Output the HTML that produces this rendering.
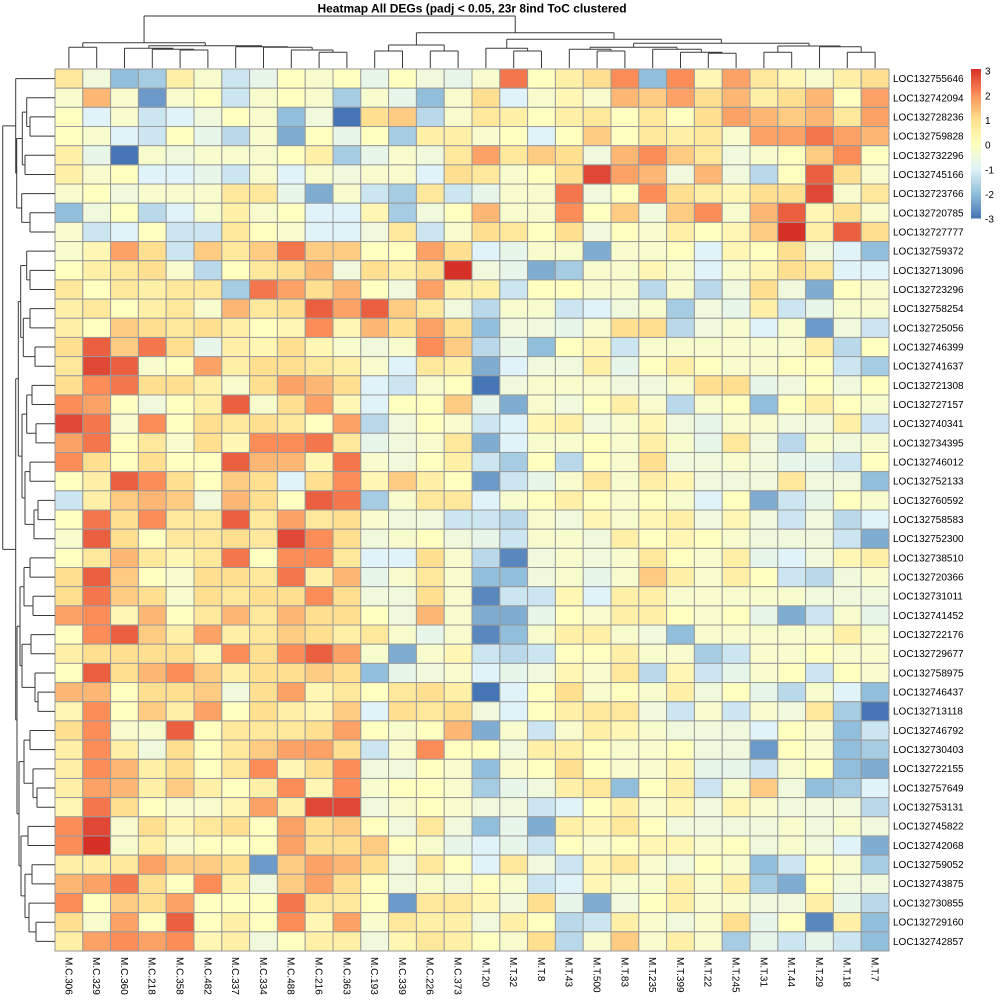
<!DOCTYPE html>
<html>
<head>
<meta charset="utf-8">
<style>
html,body{margin:0;padding:0;background:#fff;}
svg{display:block;}
text{font-family:"Liberation Sans",Arial,sans-serif;fill:#000;}
</style>
</head>
<body>
<svg id="s" xmlns="http://www.w3.org/2000/svg" width="1000" height="1000" viewBox="0 0 1000 1000">
<rect x="0" y="0" width="1000" height="1000" fill="#fff"/>
<g id="cells"></g>
<g id="dend" fill="none" stroke="#3a3a3a" stroke-width="1"></g>
<text x="472" y="12.3" font-size="12" font-weight="bold" text-anchor="middle">Heatmap All DEGs (padj &lt; 0.05, 23r 8ind ToC clustered</text>
<defs>
<linearGradient id="lg" x1="0" y1="0" x2="0" y2="1">
<stop offset="0" stop-color="#D73027"/>
<stop offset="0.1667" stop-color="#FC8D59"/>
<stop offset="0.3333" stop-color="#FEE090"/>
<stop offset="0.5" stop-color="#FFFFBF"/>
<stop offset="0.6667" stop-color="#E0F3F8"/>
<stop offset="0.8333" stop-color="#91BFDB"/>
<stop offset="1" stop-color="#4575B4"/>
</linearGradient>
</defs>
<rect x="971" y="69" width="10" height="149.5" fill="url(#lg)"/>
<g font-size="10">
<text x="985" y="74.3">3</text>
<text x="985" y="99.3">2</text>
<text x="985" y="123.9">1</text>
<text x="985" y="148.6">0</text>
<text x="985" y="173.6">-1</text>
<text x="985" y="197.9">-2</text>
<text x="985" y="222.6">-3</text>
</g>
<g font-size="10">
<text x="893" y="82.1">LOC132755646</text>
<text x="893" y="101.27">LOC132742094</text>
<text x="893" y="120.44">LOC132728236</text>
<text x="893" y="139.61">LOC132759828</text>
<text x="893" y="158.78">LOC132732296</text>
<text x="893" y="177.95">LOC132745166</text>
<text x="893" y="197.12">LOC132723766</text>
<text x="893" y="216.29">LOC132720785</text>
<text x="893" y="235.46">LOC132727777</text>
<text x="893" y="254.63">LOC132759372</text>
<text x="893" y="273.8">LOC132713096</text>
<text x="893" y="292.97">LOC132723296</text>
<text x="893" y="312.14">LOC132758254</text>
<text x="893" y="331.31">LOC132725056</text>
<text x="893" y="350.48">LOC132746399</text>
<text x="893" y="369.65">LOC132741637</text>
<text x="893" y="388.82">LOC132721308</text>
<text x="893" y="407.99">LOC132727157</text>
<text x="893" y="427.16">LOC132740341</text>
<text x="893" y="446.33">LOC132734395</text>
<text x="893" y="465.5">LOC132746012</text>
<text x="893" y="484.67">LOC132752133</text>
<text x="893" y="503.84">LOC132760592</text>
<text x="893" y="523.01">LOC132758583</text>
<text x="893" y="542.18">LOC132752300</text>
<text x="893" y="561.35">LOC132738510</text>
<text x="893" y="580.52">LOC132720366</text>
<text x="893" y="599.69">LOC132731011</text>
<text x="893" y="618.86">LOC132741452</text>
<text x="893" y="638.03">LOC132722176</text>
<text x="893" y="657.2">LOC132729677</text>
<text x="893" y="676.37">LOC132758975</text>
<text x="893" y="695.54">LOC132746437</text>
<text x="893" y="714.71">LOC132713118</text>
<text x="893" y="733.88">LOC132746792</text>
<text x="893" y="753.05">LOC132730403</text>
<text x="893" y="772.22">LOC132722155</text>
<text x="893" y="791.39">LOC132757649</text>
<text x="893" y="810.56">LOC132753131</text>
<text x="893" y="829.73">LOC132745822</text>
<text x="893" y="848.9">LOC132742068</text>
<text x="893" y="868.07">LOC132759052</text>
<text x="893" y="887.24">LOC132743875</text>
<text x="893" y="906.41">LOC132730855</text>
<text x="893" y="925.58">LOC132729160</text>
<text x="893" y="944.75">LOC132742857</text>
</g>
<g font-size="10">
<text transform="translate(65.3,957) rotate(90)">M.C.306</text>
<text transform="translate(93.1,957) rotate(90)">M.C.329</text>
<text transform="translate(120.9,957) rotate(90)">M.C.360</text>
<text transform="translate(148.7,957) rotate(90)">M.C.218</text>
<text transform="translate(176.5,957) rotate(90)">M.C.358</text>
<text transform="translate(204.3,957) rotate(90)">M.C.482</text>
<text transform="translate(232.1,957) rotate(90)">M.C.337</text>
<text transform="translate(259.9,957) rotate(90)">M.C.334</text>
<text transform="translate(287.7,957) rotate(90)">M.C.488</text>
<text transform="translate(315.5,957) rotate(90)">M.C.216</text>
<text transform="translate(343.3,957) rotate(90)">M.C.363</text>
<text transform="translate(371.1,957) rotate(90)">M.C.193</text>
<text transform="translate(398.9,957) rotate(90)">M.C.339</text>
<text transform="translate(426.7,957) rotate(90)">M.C.226</text>
<text transform="translate(454.5,957) rotate(90)">M.C.373</text>
<text transform="translate(482.3,957) rotate(90)">M.T.20</text>
<text transform="translate(510.1,957) rotate(90)">M.T.32</text>
<text transform="translate(537.9,957) rotate(90)">M.T.8</text>
<text transform="translate(565.7,957) rotate(90)">M.T.43</text>
<text transform="translate(593.5,957) rotate(90)">M.T.500</text>
<text transform="translate(621.3,957) rotate(90)">M.T.83</text>
<text transform="translate(649.1,957) rotate(90)">M.T.235</text>
<text transform="translate(676.9,957) rotate(90)">M.T.399</text>
<text transform="translate(704.7,957) rotate(90)">M.T.22</text>
<text transform="translate(732.5,957) rotate(90)">M.T.245</text>
<text transform="translate(760.3,957) rotate(90)">M.T.31</text>
<text transform="translate(788.1,957) rotate(90)">M.T.44</text>
<text transform="translate(815.9,957) rotate(90)">M.T.29</text>
<text transform="translate(843.7,957) rotate(90)">M.T.18</text>
<text transform="translate(871.5,957) rotate(90)">M.T.7</text>
</g>
</svg>
<script>
(function(){
var NS="http://www.w3.org/2000/svg";
var D=[
"PKEFOLHJMLMJMKJLVMOQUEUNTPNLOQ",
"LSLCLMHLMLFLJELQILNLSRTQSOQSMT",
"MILHIKMLEKAQRGLPOMOPMPMQTSRSPT",
"MLIHMJGLDMJMFOOLMIMRMPOPLTTVTS",
"OJALKLLLMOFJLKPTPRQKSURPKLMRUM",
"OLMIIJHLILKLLIQPLMQXTSKSKGMWQL",
"LMKLLLPPJDLHFPHJLLVKMUQONQQXLP",
"EKMGILOLMIINFKMSLLUMRKRULSWNQL",
"LHIMHHPMLIIKPHLQPMQKMLOMNRYOWQ",
"LNTQHRPRVRRMMTQIJLLDLLMINMQKIE",
"MOPQLGMPQSKQOQYKJDFLLNLILNQPII",
"PMPOPPFVTQSMKTOOHMMLLGLGKQKDML",
"OPMOPLSPQWTWRPKGLLHIKLFKJOHJLL",
"OMRQPQOMNUNSQTQEKKJLQQGKLILCKH",
"QWRVQJONQNLKLURGJEMNHLLLLLLOGM",
"PXWLMTOQQPOLIPODIKKOJMOMLLMMHF",
"QUVQQOLQTSQIHLMAKLLLKKLQQJKMKM",
"UTMKMOWLQTNIMMRJDLKMOLGLMEMOML",
"XVLUMQPQPMTGKMLHINOKLNKJLLKKOH",
"TVMPLQNUUVPJKLPDILLMLOLJPKGLKL",
"UQMQMMWSSNVLKMOHFMGMLQKKLKJJHM",
"MOWUQMRQIQUNROMCHJLPLONKKKPKKE",
"HORSRKSQMWVFLPPILMOMLMLIMDHJML",
"MVQUPPWPTPQLKKHHGLKNLNOKNKHKGI",
"LWQMPPQPXUQKLMKJHLLKOMNMLKKKHD",
"MPSPNPVMUUPIIQLGBKLKLPMLOJIKNO",
"QWRMLQQPVOSJLPLEEKLJLROLOMHGKL",
"QVRQLQPQQUQKKQLBHHNIOOLLLLLKKK",
"TUNSMPSPSQQMKSLDDJMLOOMLMJDHLJ",
"MUWROTOPRQOPLJLBELOOLKELLLLLOL",
"OQQQQNUQUWTLDLNHGHMMOLLFHLLMLL",
"MWQSUROQQRQEJKLIJKNLPGNHJLMHML",
"SSMQQRKQTNPMPQOAIMQLMLOKMJGLIE",
"NUMROTMQONRIQPQKIMOPPKHLHLKPFA",
"QULLWMPPPQTMLMSDLHLONLKKKIMLEH",
"OUOKQMPRTTQHLUMMKOOMLLMKKCMLEF",
"OUSOQMPUNQUKKMLELMQMLLNJJHLMED",
"OTSOROMOUNULMMLFJKOPEMOHLRKEFI",
"NVQMLLNTOXXKLMLKKHIMOLNKNLKKKG",
"UXLQNPQMTQRMKPKEJDONPMKKKKLKLK",
"UYLOLMMMTQQRMLJIJHMLMNNLMKLKID",
"OOPTRRQCRTSQKPMIPKHNPLKMLEHMLF",
"STVQMUOKRTQMKLKMLHINLLOLOFDMKK",
"UMRQTMMMVPPMCPPNKQJDKMOLLKKOJG",
"QLTMWMOMUNTLPOOKOMGHOLKLQJMBOE",
"OTUTUNOKMOOKNPOMLQGLRLOLFJHJHE"
];
var S=[[69,117,180],[145,191,219],[224,243,248],[255,255,191],[254,224,144],[252,141,89],[215,48,39]];
function color(v){
  var t=(v+3); if(t<0)t=0; if(t>6)t=6;
  var i=Math.floor(t); if(i>5)i=5; var f=t-i;
  var a=S[i],b=S[i+1];
  var r=Math.round(a[0]+(b[0]-a[0])*f),g=Math.round(a[1]+(b[1]-a[1])*f),bl=Math.round(a[2]+(b[2]-a[2])*f);
  return "rgb("+r+","+g+","+bl+")";
}
var X0=55,Y0=69,CW=27.8,CH=882/46;
var cells=document.getElementById("cells");
for(var r=0;r<46;r++){
  var row=D[r];
  for(var c=0;c<30;c++){
    var ch=row.charCodeAt(c);
    var v=isNaN(ch)?0:(ch-77)*0.25;
    var e=document.createElementNS(NS,"rect");
    e.setAttribute("x",(X0+c*CW).toFixed(2));
    e.setAttribute("y",(Y0+r*CH).toFixed(2));
    e.setAttribute("width",CW.toFixed(2));
    e.setAttribute("height",CH.toFixed(2));
    e.setAttribute("fill",color(v));
    e.setAttribute("stroke","#999999");
    e.setAttribute("stroke-width","1");
    cells.appendChild(e);
  }
}
var dend=document.getElementById("dend");
var path="";
function L(x1,y1,x2,y2){path+="M"+x1.toFixed(2)+" "+y1.toFixed(2)+"L"+x2.toFixed(2)+" "+y2.toFixed(2);}
// column dendrogram
function colC(i){return X0+CW*(i+0.5);}
function cdraw(n){
  if(typeof n==="number") return [colC(n),68];
  var a=cdraw(n[1]),b=cdraw(n[2]),h=n[0];
  L(a[0],h,b[0],h); L(a[0],h,a[0],a[1]); L(b[0],h,b[0],b[1]);
  return [(a[0]+b[0])/2,h];
}
var CL=[42.7,[47.3,0,1],[45.7,[48.3,2,[49.3,3,[50,4,5]]],[46.7,6,[47.3,7,[50,8,[52.3,9,10]]]]]];
var CR=[32.7,[45,[51,11,12],[51,13,14]],[39.3,[48.3,15,[51,16,17]],[43.3,[47.3,[49.3,18,[51,19,20]],[49.3,21,[52.3,22,[53.3,23,24]]]],[46,[52.3,25,26],[46.7,27,[52.3,28,29]]]]]];
cdraw([16,CL,CR]);
// row dendrogram
function rowC(i){return Y0+CH*(i+0.5);}
function rdraw(n){
  if(typeof n==="number") return [55,rowC(n)];
  var a=rdraw(n[1]),b=rdraw(n[2]),h=n[0];
  L(h,a[1],h,b[1]); L(h,a[1],a[0],a[1]); L(h,b[1],b[0],b[1]);
  return [h,(a[1]+b[1])/2];
}
var T=[15.7,0,[16.7,[22.3,[26.7,1,[30,2,3]],[25,4,5]],[21.7,6,[30,7,8]]]];
var B1=[18.3,[20.7,[26.7,9,[30,10,11]],[23.3,[30,12,13],[35,14,15]]],[22,[26.7,[32,16,17],[36,18,19]],[25,[30,20,21],[34,[38,22,23],24]]]];
var B2=[17,[20,[24,[30,25,26],[33,27,28]],[22,[31,29,30],[35,31,[38,32,33]]]],[19,[24,[30,34,35],[33,36,[37,37,38]]],[21,[28,39,40],[25,[32,41,42],[29,43,[36,44,45]]]]]];
rdraw([2.7,T,[15.7,B1,B2]]);
var p=document.createElementNS(NS,"path");
p.setAttribute("d",path);
dend.appendChild(p);
})();
</script>
</body>
</html>
